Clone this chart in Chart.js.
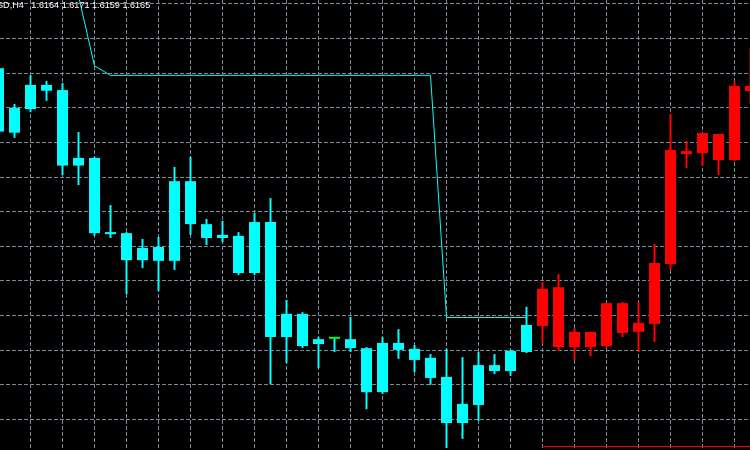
<!DOCTYPE html>
<html>
<head>
<meta charset="utf-8">
<script src="https://cdn.jsdelivr.net/npm/chart.js@4.4.1/dist/chart.umd.min.js"></script>
<style>
  html, body { margin: 0; padding: 0; background: #000; overflow: hidden; }
  #wrap { position: relative; width: 750px; height: 450px; }
  #info {
    position: absolute; left: -3px; top: 0px;
    font: 9.1px "Liberation Sans", Arial, sans-serif; line-height: 11px;
    color: #fff; white-space: pre; z-index: 2;
  }
</style>
</head>
<body>
<div id="wrap">
  <canvas id="chart" width="750" height="450"></canvas>
  <div id="info">SD,H4   1.6164 1.6171 1.6159 1.6165</div>
</div>
<script>
// bars 0..47, H4 candles
const opens  = [1.61914, 1.61728, 1.61796, 1.61866, 1.61851, 1.61633, 1.61655, 1.61435, 1.61438, 1.61360,
                1.61398, 1.61358, 1.61588, 1.61464, 1.61424, 1.61430, 1.61323, 1.61470, 1.61138, 1.61205,
                1.61118, 1.61133, 1.61132, 1.61106, 1.60979, 1.61121, 1.61104, 1.61078, 1.61023, 1.60890,
                1.60942, 1.61057, 1.61040, 1.61095, 1.61170, 1.61282, 1.61109, 1.61153, 1.61112, 1.61236,
                1.61153, 1.61176, 1.61349, 1.61666, 1.61669, 1.61724, 1.61649, 1.61848];
const highs  = [1.61920, 1.61811, 1.61894, 1.61877, 1.61871, 1.61730, 1.61658, 1.61519, 1.61441, 1.61421,
                1.61427, 1.61629, 1.61658, 1.61479, 1.61473, 1.61441, 1.61496, 1.61539, 1.61245, 1.61210,
                1.61138, 1.61138, 1.61196, 1.61109, 1.61138, 1.61161, 1.61115, 1.61089, 1.61104, 1.61080,
                1.61095, 1.61089, 1.61101, 1.61225, 1.61297, 1.61320, 1.61164, 1.61153, 1.61236, 1.61239,
                1.61239, 1.61407, 1.61782, 1.61704, 1.61727, 1.61724, 1.61877, 1.61972];
const lows   = [1.61724, 1.61713, 1.61787, 1.61820, 1.61606, 1.61577, 1.61430, 1.61424, 1.61262, 1.61337,
                1.61271, 1.61332, 1.61433, 1.61404, 1.61412, 1.61317, 1.61317, 1.61002, 1.61063, 1.61106,
                1.61049, 1.61095, 1.61095, 1.60930, 1.60974, 1.61075, 1.61037, 1.61000, 1.60818, 1.60844,
                1.60896, 1.61031, 1.61026, 1.61092, 1.61121, 1.61098, 1.61072, 1.61083, 1.61106, 1.61138,
                1.61095, 1.61124, 1.61332, 1.61626, 1.61632, 1.61606, 1.61646, 1.61811];
const closes = [1.61731, 1.61800, 1.61866, 1.61849, 1.61633, 1.61655, 1.61438, 1.61441, 1.61360, 1.61395,
                1.61358, 1.61588, 1.61464, 1.61424, 1.61433, 1.61323, 1.61470, 1.61138, 1.61205, 1.61112,
                1.61132, 1.61133, 1.61106, 1.60979, 1.61121, 1.61101, 1.61072, 1.61020, 1.60890, 1.60945,
                1.61057, 1.61040, 1.61098, 1.61173, 1.61277, 1.61109, 1.61153, 1.61109, 1.61236, 1.61150,
                1.61179, 1.61352, 1.61678, 1.61675, 1.61727, 1.61649, 1.61863, 1.61863];

// trailing stop line (null = not drawn)
const trail = [null, null, null, null, null, 1.62123, 1.61921, 1.618935, 1.618935, 1.618935,
               1.618935, 1.618935, 1.618935, 1.618935, 1.618935, 1.618935, 1.618935, 1.618935, 1.618935, 1.618935,
               1.618935, 1.618935, 1.618935, 1.618935, 1.618935, 1.618935, 1.618935, 1.618935, 1.611945, 1.611945,
               1.611945, 1.611945, 1.611945, 1.611945, null, null, null, null, null, null,
               null, null, null, null, null, null, null, null];

const upTrendFrom = 34;      // candles from this bar on are red
const levelPrice = 1.60822;  // red horizontal level
const levelFrom = 34;

const yGrid = [1.609, 1.610, 1.611, 1.612, 1.613, 1.614, 1.615, 1.616, 1.617, 1.618, 1.619, 1.620, 1.621];
const xGrid = [];
for (let i = 2; i <= 46; i += 2) xGrid.push(i);

const CYAN = "#00ffff", RED = "#ff0000", LIME = "#00ff00", GRID = "#778899";

const bodies = opens.map((o, i) => ({ x: i, y: [o, closes[i]] }));
const wicks = highs.map((h, i) => ({ x: i, y: [lows[i], h] }));
const trailPts = [];
trail.forEach((v, i) => { if (v !== null) trailPts.push({ x: i, y: v }); });
const levelPts = [{ x: levelFrom, y: levelPrice }, { x: opens.length - 1, y: levelPrice }];

function candleColor(i) {
    return i >= upTrendFrom ? RED : CYAN;
}

const ctx = document.getElementById("chart").getContext("2d");
new Chart(ctx, {
    type: "bar",
    data: {
        datasets: [
            { type: "line", data: trailPts, borderColor: CYAN, borderWidth: 1, pointRadius: 0, tension: 0, order: 0 },
            { type: "line", data: levelPts, borderColor: RED, borderWidth: 1, pointRadius: 0, tension: 0, order: 0 },
            {
                data: bodies, grouped: false, barThickness: 11, minBarLength: 2, inflateAmount: 0,
                borderWidth: 0, borderSkipped: false, order: 1,
                backgroundColor: c => opens[c.dataIndex] === closes[c.dataIndex] ? LIME : candleColor(c.dataIndex)
            },
            {
                data: wicks, grouped: false, barThickness: 2, inflateAmount: 0,
                borderWidth: 0, borderSkipped: false, order: 2,
                backgroundColor: c => candleColor(c.dataIndex)
            }
        ]
    },
    options: {
        responsive: false,
        animation: false,
        layout: { padding: 0 },
        plugins: { legend: { display: false }, tooltip: { enabled: false } },
        scales: {
            x: {
                type: "linear", min: 1.5 / 16, max: 751.5 / 16, offset: false,
                grid: { color: GRID, lineWidth: 1, drawTicks: false, offset: false },
                border: { display: false, dash: [4, 2] },
                ticks: { display: false },
                afterBuildTicks: axis => { axis.ticks = xGrid.map(v => ({ value: v })); }
            },
            y: {
                type: "linear", min: 1.60812, max: 1.62111,
                grid: { color: GRID, lineWidth: 1, drawTicks: false },
                border: { display: false, dash: [4, 2] },
                ticks: { display: false },
                afterBuildTicks: axis => { axis.ticks = yGrid.map(v => ({ value: v })); }
            }
        }
    }
});
</script>
</body>
</html>
